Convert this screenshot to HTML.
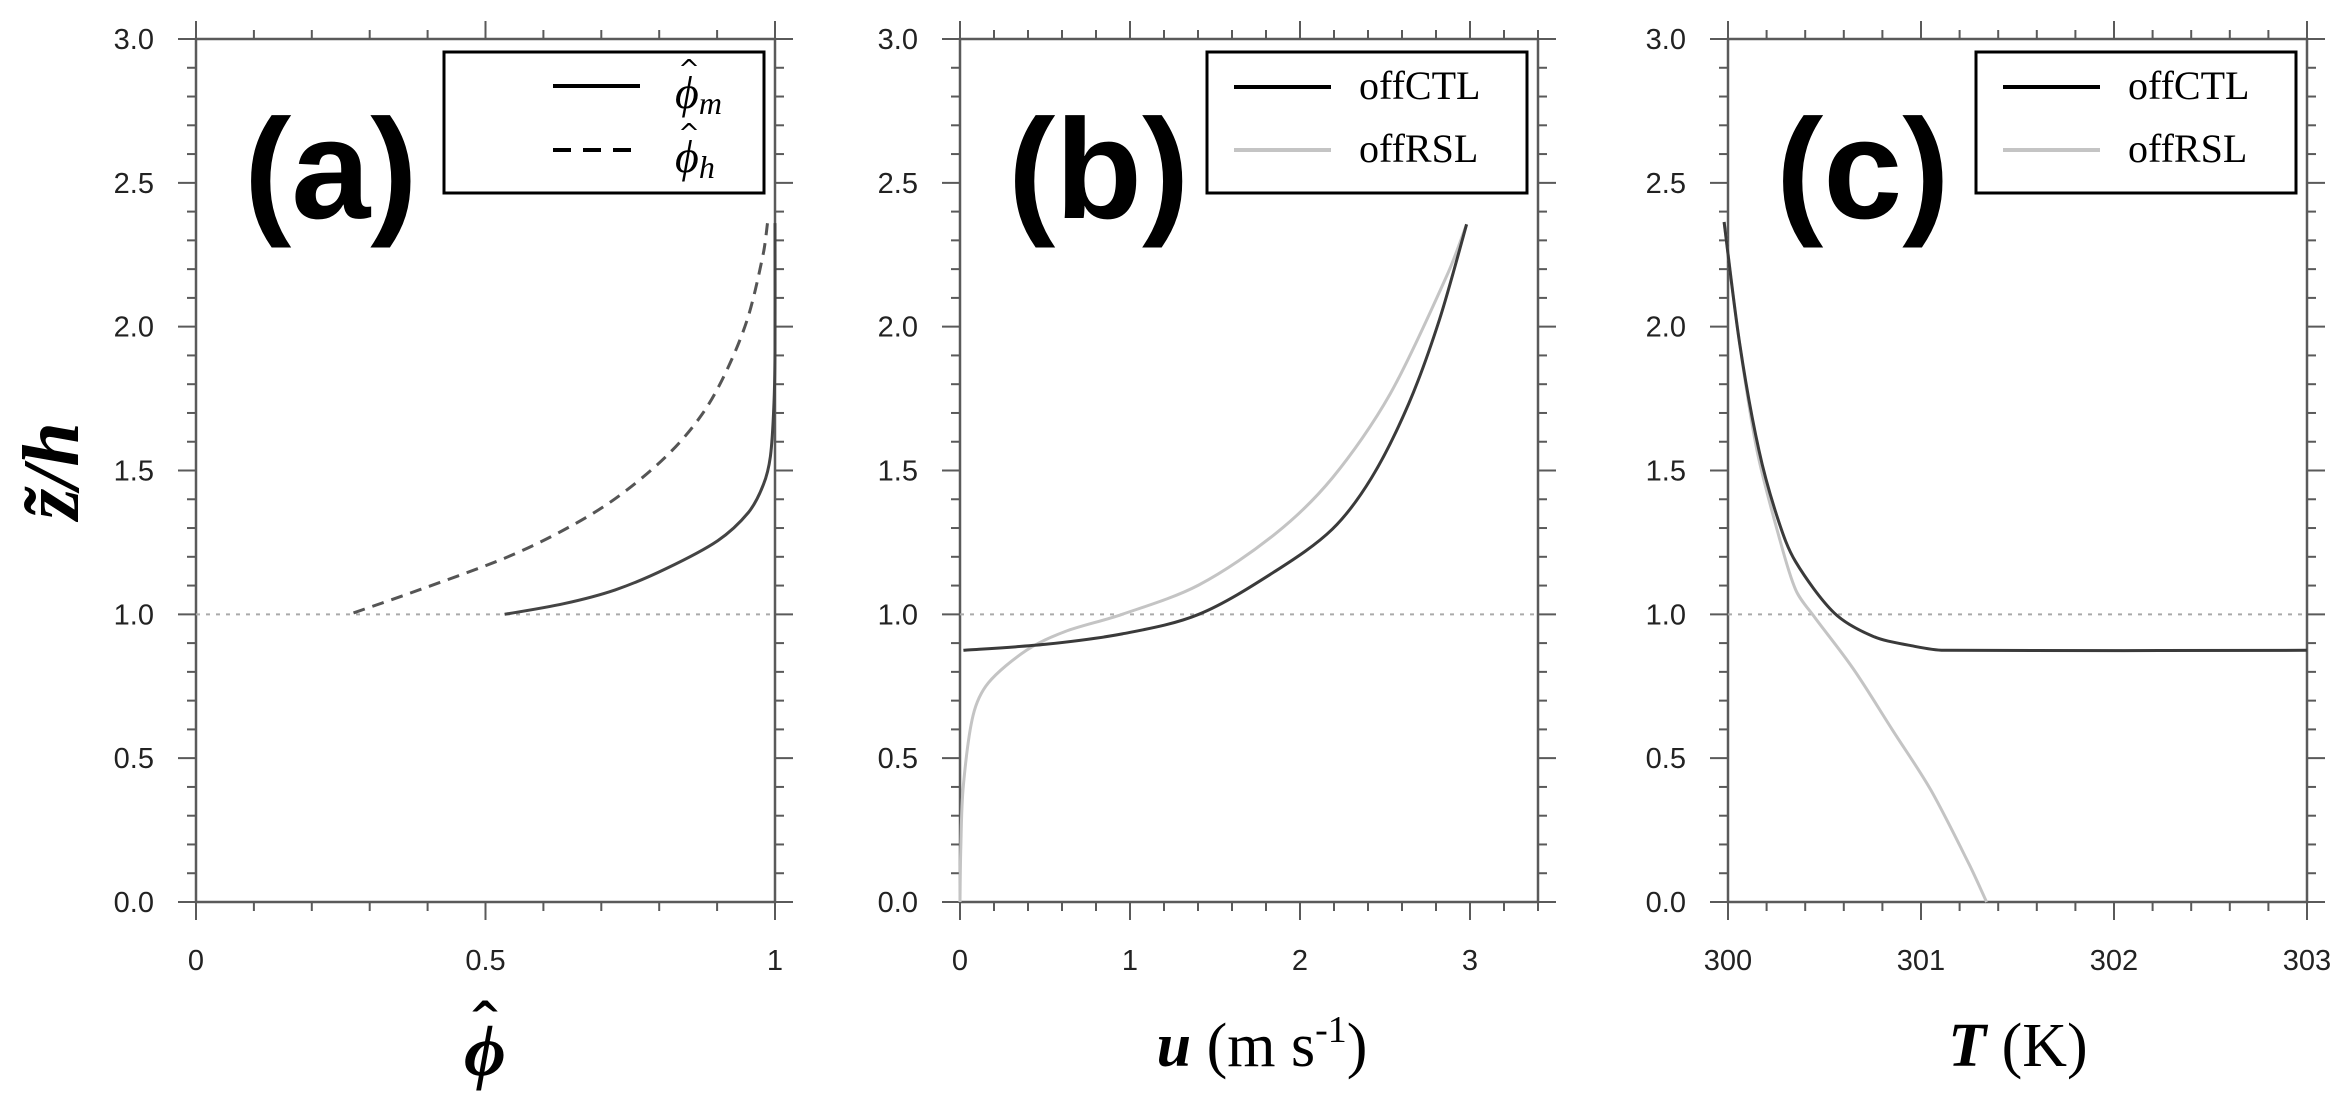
<!DOCTYPE html>
<html><head><meta charset="utf-8">
<style>
html,body{margin:0;padding:0;background:#fff;}
svg{display:block;}
</style></head>
<body>
<svg id="fig" width="2347" height="1101" viewBox="0 0 2347 1101" xmlns="http://www.w3.org/2000/svg"></svg>
<script>
// ---- data ----
const aPhimX = [0.533,0.635,0.724,0.812,0.901,0.954,0.980,0.992,0.998,1.0,1.0];
const aPhimY = [1.0,1.037,1.085,1.159,1.256,1.354,1.451,1.549,1.72,1.915,2.36];
const aPhihX = [0.272,0.369,0.533,0.635,0.724,0.812,0.874,0.918,0.954,0.980,0.987];
const aPhihY = [1.005,1.073,1.195,1.293,1.402,1.549,1.695,1.854,2.037,2.256,2.36];
const bCtlX = [0.02,0.504,0.954,1.405,1.855,2.19,2.42,2.64,2.82,2.98];
const bCtlY = [0.875,0.896,0.932,1.0,1.15,1.296,1.474,1.733,2.024,2.356];
const bRslX = [0.0,0.005,0.02,0.077,0.167,0.391,0.617,0.954,1.405,1.855,2.19,2.53,2.87,2.98];
const bRslY = [0.0,0.2,0.406,0.649,0.762,0.875,0.94,1.0,1.102,1.28,1.474,1.766,2.186,2.356];
const cCtlX = [299.98,300.06,300.16,300.26,300.35,300.55,300.75,300.95,301.12,303.0];
const cCtlY = [2.364,1.943,1.571,1.328,1.183,1.005,0.924,0.891,0.875,0.875];
const cRslX = [299.98,300.06,300.15,300.26,300.35,300.45,300.65,300.85,301.05,301.25,301.34];
const cRslY = [2.364,1.943,1.571,1.28,1.086,0.989,0.81,0.6,0.39,0.13,0.0];
const yTicks = [0,0.5,1,1.5,2,2.5,3];
const yTickLabels = ["0.0","0.5","1.0","1.5","2.0","2.5","3.0"];
const aXTicks = [0,0.5,1]; const aXLabels = ["0","0.5","1"];
const bXTicks = [0,1,2,3]; const bXLabels = ["0","1","2","3"];
const cXTicks = [300,301,302,303]; const cXLabels = ["300","301","302","303"];

const NS="http://www.w3.org/2000/svg";
const svg=document.getElementById('fig');
function mk(tag,attrs,parent){const e=document.createElementNS(NS,tag);for(const k in attrs)e.setAttribute(k,attrs[k]);(parent||svg).appendChild(e);return e;}

const Y0=902, Y1=39;
function sy(v){return Y0-(v/3)*(Y0-Y1);}

function clampT(tx,ty,seg){
  const m=Math.hypot(tx,ty), lim=seg/3;
  if(m>lim&&m>0){tx*=lim/m;ty*=lim/m;}
  return [tx,ty];
}
function smoothPath(pts){
  let d='M'+pts[0][0].toFixed(1)+','+pts[0][1].toFixed(1);
  for(let i=0;i<pts.length-1;i++){
    const p0=pts[i-1]||pts[i], p1=pts[i], p2=pts[i+1], p3=pts[i+2]||pts[i+1];
    const seg=Math.hypot(p2[0]-p1[0],p2[1]-p1[1]);
    const t1=clampT((p2[0]-p0[0])/6,(p2[1]-p0[1])/6,seg);
    const t2=clampT((p3[0]-p1[0])/6,(p3[1]-p1[1])/6,seg);
    d+=' C'+(p1[0]+t1[0]).toFixed(1)+','+(p1[1]+t1[1]).toFixed(1)+' '+(p2[0]-t2[0]).toFixed(1)+','+(p2[1]-t2[1]).toFixed(1)+' '+p2[0].toFixed(1)+','+p2[1].toFixed(1);
  }
  return d;
}

function panel(opts){
  const g=mk('g',{});
  
  
  const L=opts.left,R=opts.right;
  const sx=v=>L+(v-opts.xmin)/(opts.xmax-opts.xmin)*(R-L);
  const ax={stroke:'#5a5a5a','stroke-width':2.5,fill:'none'};
  const fr=mk('rect',Object.assign({x:L,y:Y1,width:R-L,height:Y0-Y1},ax),g);
  
  
  for(let i=0;i<=30;i++){
    const v=i/10, y=sy(v), maj=(i%5===0), len=maj?18:9;
    mk('line',{x1:L-len,y1:y,x2:L,y2:y,stroke:'#5a5a5a','stroke-width':2},g);
    mk('line',{x1:R,y1:y,x2:R+len,y2:y,stroke:'#5a5a5a','stroke-width':2},g);
  }
  for(let v=opts.xmin; v<=opts.xmax+1e-9; v+=opts.minor){
    const vv=Math.round(v*1000)/1000;
    const maj=opts.xticks.some(t=>Math.abs(t-vv)<1e-6);
    const len=maj?18:9, x=sx(vv);
    mk('line',{x1:x,y1:Y0,x2:x,y2:Y0+len,stroke:'#5a5a5a','stroke-width':2},g);
    mk('line',{x1:x,y1:Y1-len,x2:x,y2:Y1,stroke:'#5a5a5a','stroke-width':2},g);
  }
  yTicks.forEach((v,i)=>{
    const t=mk('text',{x:L-42,y:sy(v)+10,'text-anchor':'end','font-family':'Liberation Sans, sans-serif','font-size':29,fill:'#222'},g);
    t.textContent=yTickLabels[i];
    
    
  });
  opts.xticks.forEach((v,i)=>{
    const t=mk('text',{x:sx(v),y:970,'text-anchor':'middle','font-family':'Liberation Sans, sans-serif','font-size':29,fill:'#222'},g);
    t.textContent=opts.xlabels[i];
    
    
  });
  const ref=mk('line',{x1:L,y1:sy(1),x2:R,y2:sy(1),stroke:'#aaa','stroke-width':2,'stroke-dasharray':'4,6'},g);
  
  
  opts.series.forEach(s=>{
    const pts=s.x.map((v,i)=>[sx(v),sy(s.y[i])]);
    const p=mk('path',{d:smoothPath(pts),fill:'none',stroke:s.color,'stroke-width':3,'stroke-linejoin':'round','stroke-dasharray':s.dash||'none'},g);
    
    
  });
  const pl=mk('text',{x:L+48,y:218,'font-family':'Liberation Sans, sans-serif','font-weight':'bold','font-size':142,fill:'#000'},g);
  pl.textContent=opts.letter;
  
  
  const lb=mk('rect',{x:R-331,y:52,width:320,height:141,fill:'#fff',stroke:'#000','stroke-width':3},g);
  
  
  return {g,sx,L,R};
}

const pa=panel({name:'panel-a',left:196,right:775,xmin:0,xmax:1,minor:0.1,xticks:aXTicks,xlabels:aXLabels,letter:'(a)',
  series:[{name:'phi-m-line',x:aPhimX,y:aPhimY,color:'#444'},{name:'phi-h-line',x:aPhihX,y:aPhihY,color:'#555',dash:'12,8'}]});
const pb=panel({name:'panel-b',left:960,right:1538,xmin:0,xmax:3.4,minor:0.2,xticks:bXTicks,xlabels:bXLabels,letter:'(b)',
  series:[{name:'offRSL-line',x:bRslX,y:bRslY,color:'#c4c4c4'},{name:'offCTL-line',x:bCtlX,y:bCtlY,color:'#3a3a3a'}]});
const pc=panel({name:'panel-c',left:1728,right:2307,xmin:300,xmax:303,minor:0.2,xticks:cXTicks,xlabels:cXLabels,letter:'(c)',
  series:[{name:'offRSL-line',x:cRslX,y:cRslY,color:'#c4c4c4'},{name:'offCTL-line',x:cCtlX,y:cCtlY,color:'#3a3a3a'}]});

function legLine(g,x1,x2,y,color,dash,name){
  const l=mk('line',{x1:x1,y1:y,x2:x2,y2:y,stroke:color,'stroke-width':4,'stroke-dasharray':dash||'none'},g);
  
  
}
legLine(pa.g,553,640,86,'#000',null,'legend-line-phi-m');
legLine(pa.g,553,640,150,'#000','18,12','legend-line-phi-h');
[['m',108,'legend-label-phi-m'],['h',172,'legend-label-phi-h']].forEach(([sub,yb,nm])=>{
  const t=mk('text',{x:675,y:yb,'font-family':'Liberation Serif, DejaVu Serif, serif','font-style':'italic','font-size':46,fill:'#000'},pa.g);
  t.innerHTML='ϕ<tspan font-size="32" dy="6">'+sub+'</tspan>';
  
  
  const h=mk('text',{x:689,y:yb-30,'text-anchor':'middle','font-family':'DejaVu Sans, sans-serif','font-size':26,fill:'#000'},pa.g);
  h.textContent='^';
});
[pb,pc].forEach(p=>{
  const L=p.R-331;
  legLine(p.g,L+27,L+124,87,'#000',null,'legend-line-offCTL');
  legLine(p.g,L+27,L+124,150,'#c4c4c4',null,'legend-line-offRSL');
  [['offCTL',99],['offRSL',162]].forEach(([s,yb])=>{
    const t=mk('text',{x:L+152,y:yb,'font-family':'Liberation Serif, serif','font-size':40,fill:'#000'},p.g);
    t.textContent=s;
    
    
  });
});

const yt=mk('text',{x:0,y:0,transform:'translate(78,471) rotate(-90)','text-anchor':'middle','font-family':'Liberation Serif, serif','font-weight':'bold','font-style':'italic','font-size':80,fill:'#000'});
yt.textContent='z̃/h';



const xa=mk('text',{x:485,y:1075,'text-anchor':'middle','font-family':'Liberation Serif, DejaVu Serif, serif','font-weight':'bold','font-style':'italic','font-size':72,fill:'#000'});
xa.textContent='ϕ';


const xah=mk('text',{x:485,y:1030,'text-anchor':'middle','font-family':'DejaVu Sans, sans-serif','font-weight':'bold','font-size':40,fill:'#000'});
xah.textContent='^';

const xb=mk('text',{x:1262,y:1066,'text-anchor':'middle','font-family':'Liberation Serif, serif','font-size':62,fill:'#000'});
xb.innerHTML='<tspan font-weight="bold" font-style="italic">u</tspan> (m s<tspan font-size="38" dy="-24">-1</tspan><tspan dy="24">)</tspan>';



const xc=mk('text',{x:2018,y:1066,'text-anchor':'middle','font-family':'Liberation Serif, serif','font-size':62,fill:'#000'});
xc.innerHTML='<tspan font-weight="bold" font-style="italic">T</tspan> (K)';


</script>
</body></html>
